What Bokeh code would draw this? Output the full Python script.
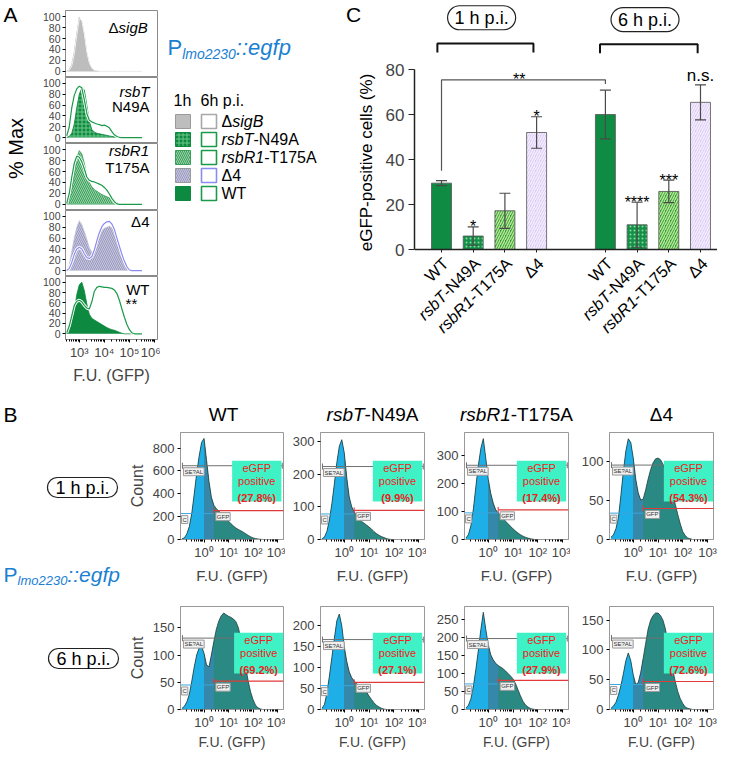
import math
from bokeh.plotting import figure
from bokeh.layouts import row, column
from bokeh.models import Range1d, FixedTicker, Label, Whisker, TeeHead, ColumnDataSource
from bokeh.core.properties import value
from bokeh.embed import file_html
from bokeh.resources import INLINE

FONT = "Liberation Sans"

# ======================= DATA =======================
# ---- Panel A: overlay histograms (x = log10 F.U., y = % of max) ----
a_log_fu = [2.5, 2.6, 2.7, 2.8, 2.9, 3.0, 3.1, 3.2, 3.3, 3.4, 3.5, 3.6, 3.7, 3.8, 3.9, 4.0,
            4.1, 4.2, 4.3, 4.4, 4.5, 4.6, 4.7, 4.8, 4.9, 5.0, 5.1, 5.2, 5.3, 5.4, 5.5]
a_sigB_1h = [0, 3, 12, 35, 68, 98, 90, 65, 33, 14, 5, 2, 0.5, 0, 0, 0,
             0, 0, 0, 0, 0, 0, 0, 0, 0, 0, 0, 0, 0, 0, 0]
a_sigB_6h = [0, 2, 10, 32, 66, 96, 93, 68, 35, 15, 6, 2, 1, 0, 0, 0,
             0, 0, 0, 0, 0, 0, 0, 0, 0, 0, 0, 0, 0, 0, 0]
a_rsbT_1h = [0.5, 2, 8, 25, 55, 80, 92, 88, 60, 30, 15, 10, 8, 7, 6, 5,
             4, 3, 2, 1.5, 1, 0.5, 0, 0, 0, 0, 0, 0, 0, 0, 0]
a_rsbT_6h = [3, 20, 55, 78, 90, 95, 92, 70, 45, 32, 29, 27, 25, 24, 22, 23,
             21, 18, 11, 5, 2, 0.5, 0, 0, 0, 0, 0, 0, 0, 0, 0]
a_rsbR1_1h = [1, 8, 28, 55, 85, 98, 92, 75, 53, 40, 32, 27, 24, 21, 18, 16,
              14, 12, 9, 6, 3, 1, 0, 0, 0, 0, 0, 0, 0, 0, 0]
a_rsbR1_6h = [2, 20, 50, 75, 88, 86, 78, 65, 50, 44, 42, 41, 39, 37, 35, 31,
              26, 19, 11, 5, 1, 0, 0, 0, 0, 0, 0, 0, 0, 0, 0]
a_d4_1h = [0, 10, 35, 60, 80, 92, 85, 72, 58, 42, 34, 38, 52, 65, 74, 78,
           80, 82, 79, 72, 60, 42, 25, 12, 4, 1, 0, 0, 0, 0, 0]
a_d4_6h = [0, 4, 15, 30, 40, 43, 40, 31, 24, 22, 26, 38, 55, 70, 81, 87,
           90, 91, 86, 76, 60, 45, 30, 17, 7, 1, 0, 0, 0, 0, 0]
a_wt_1h = [1, 8, 25, 45, 76, 95, 100, 84, 58, 38, 30, 27, 24, 21, 18, 15,
           12, 10, 8, 7, 5, 3, 1, 0, 0, 0, 0, 0, 0, 0, 0]
a_wt_6h = [2, 15, 35, 55, 63, 65, 62, 55, 50, 48, 62, 82, 90, 92, 91, 90,
           90, 89, 88, 85, 78, 65, 48, 32, 18, 8, 2, 0, 0, 0, 0]
a_strains = ["ΔsigB", "rsbT-N49A", "rsbR1-T175A", "Δ4", "WT"]
a_pct_ticks = [0, 20, 40, 60, 80, 100]
a_fu_ticks = [1e3, 1e4, 1e5, 1e6]
a_fu_tick_labels = ["10³", "10⁴", "10⁵", "10⁶"]

# ---- Panel C: eGFP-positive cells (%) ----
c_strains = ["WT", "rsbT-N49A", "rsbR1-T175A", "Δ4"]
c_val_1h = [29.5, 6.0, 17.2, 52.0]
c_err_1h = [1.1, 4.1, 7.8, 7.0]
c_val_6h = [60.0, 11.0, 25.8, 65.4]
c_err_6h = [10.8, 10.0, 5.0, 7.8]
c_sig_1h = ["", "*", "", "*"]
c_sig_6h = ["", "****", "***", "n.s."]
c_y_ticks = [0, 20, 40, 60, 80]
c_timepoints = ["1 h p.i.", "6 h p.i."]

# ---- Panel B: flow cytometry histograms (x = log10 F.U., y = count) ----
b_log_fu = [-0.9, -0.8, -0.7, -0.6, -0.5, -0.4, -0.3, -0.2, -0.1, 0.0, 0.1, 0.2,
            0.3, 0.4, 0.5, 0.6, 0.7, 0.8, 0.9, 1.0, 1.1, 1.2, 1.3, 1.4,
            1.5, 1.6, 1.7, 1.8, 1.9, 2.0, 2.1, 2.2, 2.3, 2.4, 2.5, 2.6]
b_wt_1h = [5, 15, 50, 115, 230, 400, 580, 730, 850, 885, 700, 510,
           370, 300, 270, 250, 228, 205, 182, 160, 138, 118, 100, 88,
           76, 64, 50, 36, 24, 14, 8, 4, 2, 0, 0, 0]
b_rsbT_1h = [2, 8, 25, 60, 110, 170, 235, 285, 305, 265, 190, 130,
             100, 85, 72, 62, 55, 50, 44, 38, 32, 24, 18, 13,
             9, 6, 3, 1, 0, 0, 0, 0, 0, 0, 0, 0]
b_rsbR1_1h = [5, 18, 50, 110, 190, 265, 325, 360, 290, 215, 165, 130,
              106, 95, 87, 76, 65, 56, 47, 38, 30, 23, 17, 12,
              8, 5, 3, 1, 0, 0, 0, 0, 0, 0, 0, 0]
b_d4_1h = [3, 6, 14, 28, 57, 88, 114, 130, 125, 105, 78, 60,
           51, 52, 64, 78, 90, 99, 104, 105, 103, 97, 89, 80,
           70, 58, 45, 32, 20, 10, 5, 2, 1, 0, 0, 0]
b_wt_6h = [2, 6, 14, 28, 52, 78, 100, 113, 116, 103, 82, 78,
           100, 125, 147, 162, 172, 177, 174, 171, 169, 166, 161, 150,
           130, 104, 78, 52, 32, 18, 8, 3, 1, 0, 0, 0]
b_rsbT_6h = [3, 12, 40, 80, 125, 170, 212, 228, 200, 150, 115, 90,
             76, 68, 62, 56, 52, 48, 42, 32, 24, 16, 10, 6,
             3, 1, 0, 0, 0, 0, 0, 0, 0, 0, 0, 0]
b_rsbR1_6h = [4, 12, 30, 65, 112, 165, 222, 270, 222, 180, 152, 138,
              128, 122, 118, 113, 107, 100, 93, 85, 72, 55, 38, 23,
              13, 7, 3, 1, 0, 0, 0, 0, 0, 0, 0, 0]
b_d4_6h = [2, 6, 12, 24, 40, 60, 82, 95, 82, 58, 42, 45,
           62, 86, 111, 135, 150, 158, 162, 162, 158, 150, 135, 112,
           90, 66, 46, 30, 18, 10, 4, 2, 1, 0, 0, 0]
b_strains = ["WT", "rsbT-N49A", "rsbR1-T175A", "Δ4"]
b_yticks_1h = [[0, 200, 400, 600, 800], [0, 100, 200, 300], [0, 100, 200, 300], [0, 50, 100]]
b_yticks_6h = [[0, 50, 100, 150], [0, 50, 100, 150, 200], [0, 50, 100, 150, 200, 250], [0, 50, 100, 150]]
b_gates_1h = [(646, 227, 253), (223, 78, 89), (265, 95, 106), (96, 34, 40)]   # (SE?AL, C, GFP) levels
b_gates_6h = [(131, 45, 52), (167, 57, 65), (197, 71, 81), (120, 42, 47)]
b_pct_1h = ["(27.8%)", "(9.9%)", "(17.4%)", "(54.3%)"]
b_pct_6h = ["(69.2%)", "(27.1%)", "(27.9%)", "(72.6%)"]
b_fu_ticks = [1, 10, 100, 1000]
b_fu_tick_labels = ["10⁰", "10¹", "10²", "10³"]

# ======================= STYLE HELPERS =======================
BLUE_T = "#1a80d2"
GREEN = "#0d8a3f"
SEG = {
    "ΔsigB": [("Δ", "normal"), ("sigB", "italic")],
    "rsbT-N49A": [("rsbT", "italic"), ("-N49A", "normal")],
    "rsbR1-T175A": [("rsbR1", "italic"), ("-T175A", "normal")],
    "Δ4": [("Δ4", "normal")],
    "WT": [("WT", "normal")],
}
CW = {' ': .278, '-': .333, '.': .278, ':': .278, '(': .333, ')': .333, '%': .889, 'A': .667,
      'B': .667, 'C': .722, 'F': .611, 'G': .778, 'N': .722, 'P': .667, 'R': .722, 'T': .611,
      'U': .722, 'W': .944, 'b': .556, 'e': .556, 'f': .278, 'g': .556, 'h': .556, 'i': .222,
      'l': .222, 'm': .833, 'o': .556, 'p': .556, 'r': .333, 's': .5, 't': .278, 'v': .5,
      'Δ': .668, '*': .389}


def tw(s, size):
    return sum(CW.get(ch, .556) for ch in s) * size


def rich(p, x, y, segs, size, color="black", align="left", baseline="middle"):
    items = []
    for s in segs:
        items.append((s[0], s[1], s[2] if len(s) > 2 else size, s[3] if len(s) > 3 else 0))
    total = sum(tw(t, sz) for t, st, sz, dy in items)
    off = {"left": 0.0, "center": -total / 2, "right": -total}[align]
    for t, st, sz, dy in items:
        p.text(x=[x], y=[y], text=[t], x_offset=off, y_offset=dy, text_font=value(FONT),
               text_font_size=f"{sz}px", text_font_style=st, text_color=color,
               text_align="left", text_baseline=baseline)
        off += tw(t, sz)


def canvas(w, h, px0, py0):
    p = figure(width=w, height=h, x_range=Range1d(px0, px0 + w),
               y_range=Range1d(-(py0 + h), -py0),
               output_backend="svg", toolbar_location=None, x_axis_location=None,
               y_axis_location=None, min_border=0)
    p.outline_line_color = None
    p.grid.visible = False
    return p


def pill(p, x, y, text, size, padx, pady, radius):
    p.add_layout(Label(x=x, y=y, text=text, text_align="center", text_baseline="middle",
                       text_font=FONT, text_font_size=f"{size}px", text_color="black",
                       background_fill_color="white", border_line_color="#222222",
                       border_line_width=1.2, border_radius=radius,
                       padding=dict(left=padx, right=padx, top=pady, bottom=pady)))


FILL_STYLES = [
    dict(fill_color="#bdbdbd"),
    dict(fill_color="#0e8a40", hatch_pattern="cross", hatch_color="#6cc688", hatch_scale=4, hatch_weight=1),
    dict(fill_color="#3c9e5c", hatch_pattern="left_diagonal_line", hatch_color="#9ad4aa", hatch_scale=4, hatch_weight=1),
    dict(fill_color="#c6c6dc", hatch_pattern="left_diagonal_line", hatch_color="#9a9ac0", hatch_scale=4, hatch_weight=1),
    dict(fill_color=GREEN),
]
OUT_COLORS = ["#f2f2f2", "#1a9a4a", "#1a9a4a", "#8c8cf0", "#1a9a4a"]

# ======================= PANEL A =======================
A_LMIN, A_LMAX = 2.45, 6.12
a_x = [10 ** v for v in a_log_fu]
a_1h = [a_sigB_1h, a_rsbT_1h, a_rsbR1_1h, a_d4_1h, a_wt_1h]
a_6h = [a_sigB_6h, a_rsbT_6h, a_rsbR1_6h, a_d4_6h, a_wt_6h]
a_labels = [
    [(5.73, 80, [("Δ", "normal"), ("sigB", "italic")])],
    [(5.8, 86, [("rsbT", "italic")]), (5.8, 57, [("N49A", "normal")])],
    [(5.78, 98, [("rsbR1", "italic")]), (5.8, 68, [("T175A", "normal")])],
    [(5.8, 90, [("Δ4", "normal")])],
    [(5.8, 86, [("WT", "normal")])],
]
a_heights = [77, 66, 67, 66, 110]
a_tops = [10, 0, 0, 0, 0]
a_bots = [0, 0, 0, 0, 43]

a_figs = []
for k in range(5):
    last = k == 4
    p = figure(width=125, height=a_heights[k], x_axis_type="log",
               x_range=Range1d(10 ** A_LMIN, 10 ** A_LMAX), y_range=Range1d(-11, 111),
               output_backend="svg", toolbar_location=None,
               x_axis_location="below" if last else None,
               min_border_left=30, min_border_right=3, min_border_top=a_tops[k], min_border_bottom=a_bots[k])
    p.grid.visible = False
    p.outline_line_color = "#8a8a8a"
    ya = p.yaxis[0]
    ya.ticker = FixedTicker(ticks=a_pct_ticks)
    ya.major_label_text_font = FONT
    ya.major_label_text_font_size = "10.5px"
    ya.major_tick_out = 3
    ya.major_tick_in = 0
    ya.minor_tick_line_color = None
    ya.major_label_standoff = 2
    ya.axis_line_color = "#8a8a8a"
    if last:
        xa = p.xaxis[0]
        xa.ticker = FixedTicker(ticks=a_fu_ticks, minor_ticks=[m * 10 ** d for d in range(2, 6) for m in range(2, 10)])
        xa.major_label_overrides = {t: l for t, l in zip(a_fu_ticks, a_fu_tick_labels)}
        xa.major_label_text_font = FONT
        xa.major_label_text_font_size = "13px"
        xa.major_tick_out = 3
        xa.major_tick_in = 0
        xa.minor_tick_out = 2
        xa.minor_tick_in = 0
        xa.major_label_standoff = 2
        xa.axis_label = "F.U. (GFP)"
        xa.axis_label_text_font = FONT
        xa.axis_label_text_font_size = "16px"
        xa.axis_label_text_font_style = "normal"
        xa.axis_label_standoff = 4
        xa.axis_line_color = "#8a8a8a"
    st = dict(FILL_STYLES[k])
    p.varea(x=a_x, y1=0, y2=a_1h[k], **st)
    p.line(a_x, a_1h[k], line_color=st["fill_color"] if k != 0 else "#a5a5a5", line_width=0.8)
    if k == 0:
        p.line(a_x, a_6h[k], line_color=OUT_COLORS[k], line_width=1)
    else:
        p.line(a_x, a_6h[k], line_color="white", line_width=3)
        p.line(a_x, a_6h[k], line_color=OUT_COLORS[k], line_width=1.2)
    for (lx, ly, segs) in a_labels[k]:
        rich(p, 10 ** lx, ly, segs, 15, align="right")
    if last:
        rich(p, 10 ** 5.08, 58, [("**", "normal")], 15, align="center")
    a_figs.append(p)

a_stack = column(*a_figs)

a_text = canvas(35, 386, 0, 0)
a_text.text(x=[3], y=[-14], text=["A"], text_font=value(FONT), text_font_size="21px",
            text_align="left", text_baseline="middle")
a_text.text(x=[15], y=[-148], text=["% Max"], angle=math.pi / 2, text_font=value(FONT),
            text_font_size="20px", text_align="center", text_baseline="middle")

# legend canvas (also hosts panel letter C and the C y-axis title)
lg = canvas(220, 386, 160, 0)
rich(lg, 167, -47, [("P", "normal", 22, 0), ("lmo2230", "italic", 14, 6), ("::egfp", "italic", 22, 0)],
     22, color=BLUE_T)
rich(lg, 173, -100, [("1h", "normal")], 16)
rich(lg, 200, -100, [("6h p.i.", "normal")], 16)
row_y = [121, 139, 157, 175, 193]
for k, name in enumerate(a_strains):
    st = dict(FILL_STYLES[k])
    lg.rect(x=[182.5], y=[-row_y[k]], width=15, height=14,
            line_color="#9a9a9a" if k in (0, 3) else st["fill_color"], line_width=1, **st)
    lg.rect(x=[208.5], y=[-row_y[k]], width=15, height=14, fill_color="white",
            line_color=OUT_COLORS[k] if k != 0 else "#a8a8a8", line_width=1.6)
    rich(lg, 221, -row_y[k], SEG[name], 16)
lg.text(x=[353], y=[-14], text=["C"], text_font=value(FONT), text_font_size="21px",
        text_align="center", text_baseline="middle")
lg.text(x=[366], y=[-162], text=["eGFP-positive cells (%)"], angle=math.pi / 2, text_font=value(FONT),
        text_font_size="17px", text_align="center", text_baseline="middle")

# ======================= PANEL C =======================
C_PX = 31.7                  # px per bar slot
C_PY = 2.25                  # px per percent
C_LB, C_BB = 34, 6           # figure borders
C_FW, C_FH = 337 - C_LB, 386 - C_BB
C_X0 = 0.148                 # left frame edge = y axis position
C_X1 = C_X0 + C_FW / C_PX
C_Y1 = 249 / C_PY
C_Y0 = C_Y1 - C_FH / C_PY
cp = figure(width=337, height=386, x_range=Range1d(C_X0, C_X1), y_range=Range1d(C_Y0, C_Y1),
            output_backend="svg", toolbar_location=None,
            min_border_left=C_LB, min_border_right=0, min_border_top=0, min_border_bottom=C_BB)
cp.grid.visible = False
cp.outline_line_color = None
slot = [0, 1, 2, 3]
x1h = [1 + s for s in slot]
x6h = [6.17 + s for s in slot]
C_STYLES = [
    dict(fill_color="#0f8b43"),
    dict(fill_color="#168f48", hatch_pattern="dot", hatch_color="#86dc9a", hatch_scale=4, hatch_weight=1),
    dict(fill_color="#2a9a45", hatch_pattern="right_diagonal_line", hatch_color="#b8e68c", hatch_scale=5, hatch_weight=1.5),
    dict(fill_color="#d9c8f6", hatch_pattern="right_diagonal_line", hatch_color="#f4eefd", hatch_scale=5, hatch_weight=1.5),
]
for i in slot:
    cp.vbar(x=[x1h[i], x6h[i]], top=[c_val_1h[i], c_val_6h[i]], bottom=0, width=0.63,
            line_color="#555555", line_width=0.8, **C_STYLES[i])
xs_all = x1h + x6h
vals_all = c_val_1h + c_val_6h
errs_all = c_err_1h + c_err_6h
wsrc = ColumnDataSource(dict(base=xs_all, upper=[v + e for v, e in zip(vals_all, errs_all)],
                             lower=[v - e for v, e in zip(vals_all, errs_all)]))
cp.add_layout(Whisker(source=wsrc, base="base", upper="upper", lower="lower", level="overlay",
                      line_color="#4a4a4a", line_width=1.2,
                      upper_head=TeeHead(size=11, line_color="#4a4a4a", line_width=1.2),
                      lower_head=TeeHead(size=11, line_color="#4a4a4a", line_width=1.2)))
sig_all = c_sig_1h + c_sig_6h
for xv, v, e, s in zip(xs_all, vals_all, errs_all, sig_all):
    if not s:
        continue
    if s == "n.s.":
        cp.text(x=[xv], y=[v + e], text=[s], y_offset=-9, text_font=value(FONT), text_font_size="17px",
                text_align="center", text_baseline="alphabetic")
    else:
        cp.text(x=[xv], y=[v + e], text=[s], y_offset=0, text_font=value(FONT), text_font_size="16px",
                text_align="center", text_baseline="alphabetic")
# comparison bracket
cp.multi_line(xs=[[x1h[0], x1h[0], x6h[0], x6h[0]]], ys=[[35, 75.4, 75.4, 73.6]],
              line_color="#555555", line_width=1.2)
cp.text(x=[3.45], y=[75.4], text=["**"], text_font=value(FONT), text_font_size="16px",
        text_align="center", text_baseline="alphabetic")
# time point brackets + pills
br = [(x1h[0] - 0.13, x1h[3] - 0.1, 91.6, 103.0), (x6h[0] - 0.17, x6h[3] - 0.09, 91.2, 102.2)]
for (l, r, yb, yp), tp in zip(br, c_timepoints):
    cp.multi_line(xs=[[l, l, r, r]], ys=[[yb - 4, yb, yb, yb - 4]], line_color="#111111", line_width=2)
    pill(cp, (l + r) / 2 - 0.12, yp, tp, 18, 7, 2, 13)
# axes
ya = cp.yaxis[0]
ya.ticker = FixedTicker(ticks=c_y_ticks)
ya.bounds = (0, 80)
ya.major_label_text_font = FONT
ya.major_label_text_font_size = "17px"
ya.major_tick_out = 6
ya.major_tick_in = 0
ya.minor_tick_line_color = None
ya.major_label_standoff = 4
ya.axis_line_width = 1.5
ya.axis_line_color = "#222222"
ya.major_tick_line_color = "#222222"
xa = cp.xaxis[0]
xa.fixed_location = 0
xa.ticker = FixedTicker(ticks=xs_all)
xa.major_label_text_font_size = "1px"
xa.major_label_text_color = None
xa.major_label_standoff = 0
xa.major_tick_out = 3
xa.major_tick_in = 0
xa.axis_line_width = 1.5
xa.axis_line_color = "#222222"
xa.major_tick_line_color = "#222222"
# rotated category labels with mixed italics
ang = math.pi / 4
LBL = 16.5
for xv, name in zip(xs_all, c_strains + c_strains):
    off = 0.0
    for t, stl in reversed(SEG[name]):
        cp.text(x=[xv], y=[0], text=[t], angle=ang, x_offset=4 - off * math.cos(ang),
                y_offset=11 + off * math.sin(ang), text_align="right", text_baseline="middle",
                text_font=value(FONT), text_font_size=f"{LBL}px", text_font_style=stl)
        off += tw(t, LBL)

top_row = row(column(a_text), a_stack, column(lg), column(cp))

# ======================= PANEL B =======================
B_LMIN, B_LMAX = -0.96, 3.24
b_x = [10 ** v for v in b_log_fu]
b_1h = [b_wt_1h, b_rsbT_1h, b_rsbR1_1h, b_d4_1h]
b_6h = [b_wt_6h, b_rsbT_6h, b_rsbR1_6h, b_d4_6h]
b_ymax_1h = [937, 327, 382, 138]
b_ymax_6h = [189, 246, 286, 173]
b_shift_1h = [False, False, False, True]
b_shift_6h = [True, False, False, True]
b_widths = [(160, 54, 2), (141, 35, 2), (144, 38, 2), (147, 39, 4)]
TEAL, SKY, MID, EDGE = "#2a8a83", "#1eaee8", "#3588aa", "#1d3f3c"
AQUA, RED = "#3ff2c6", "#ee2020"
idx_blue = [i for i, v in enumerate(b_log_fu) if v <= 1e-9]
idx_mid = [i for i, v in enumerate(b_log_fu) if -1e-9 <= v <= 0.4 + 1e-9]


def b_panel(col, rix, counts, ymax, yticks, gate, pct, shifted):
    width, lb, rb = b_widths[col]
    height, bb, std, fsz = (174, 67, 4, "15px") if rix == 0 else (146, 39, 1, "14px")
    p = figure(width=width, height=height, x_axis_type="log",
               x_range=Range1d(10 ** B_LMIN, 10 ** B_LMAX), y_range=Range1d(0, ymax),
               output_backend="svg", toolbar_location=None,
               min_border_left=lb, min_border_right=rb, min_border_top=0, min_border_bottom=bb)
    p.grid.visible = False
    p.outline_line_color = "#999999"
    p.varea(x=b_x, y1=0, y2=counts, fill_color=TEAL)
    p.varea(x=[b_x[i] for i in idx_blue], y1=0, y2=[counts[i] for i in idx_blue], fill_color=SKY)
    p.varea(x=[b_x[i] for i in idx_mid], y1=0, y2=[counts[i] for i in idx_mid], fill_color=MID)
    p.line(b_x, counts, line_color=EDGE, line_width=0.8)
    g_grey, g_blue, g_red = gate
    xl, xr = 10 ** (B_LMIN + 0.08), 10 ** (B_LMAX - 0.05)
    xg = 10 ** 0.4
    p.segment(x0=[xl], y0=[g_grey], x1=[xr], y1=[g_grey], line_color="#707070", line_width=1)
    p.scatter(x=[xl, xr], y=[g_grey, g_grey], marker="dash", size=6, angle=math.pi / 2, line_color="#707070")
    p.segment(x0=[10 ** B_LMIN], y0=[g_blue], x1=[xg], y1=[g_blue], line_color="#38a6de", line_width=1)
    p.segment(x0=[xg], y0=[g_red], x1=[10 ** B_LMAX], y1=[g_red], line_color="#e03a3a", line_width=1.2)
    p.scatter(x=[xg], y=[g_red], marker="dash", size=6, angle=math.pi / 2, line_color="#e03a3a")
    for (lx, ly, t, xo) in [(xl, g_grey, "SE?AL", 1), (10 ** B_LMIN, g_blue, "C", 1), (xg, g_red, "GFP", 2)]:
        p.add_layout(Label(x=lx, y=ly, text=t, x_offset=xo, y_offset=-2, text_align="left",
                           text_baseline="top", text_font=FONT, text_font_size="6px",
                           text_color="#333333", background_fill_color="#f0f0f0",
                           border_line_color="#9a9a9a", padding=1))
    fw = width - lb - rb
    rel = 79 if shifted else 77
    bx = 10 ** (B_LMIN + rel / fw * (B_LMAX - B_LMIN))
    by = 0.49 * ymax
    p.add_layout(Label(x=bx, y=by, y_offset=6, text="eGFP\npositive", text_align="center",
                       text_baseline="middle", text_font=FONT, text_font_size="11px", text_color=RED,
                       text_line_height=1.15, background_fill_color=AQUA,
                       padding=dict(left=6, right=6, top=1, bottom=14)))
    p.add_layout(Label(x=bx, y=by, y_offset=-11, text=pct, text_align="center", text_baseline="middle",
                       text_font=FONT, text_font_size="11px", text_font_style="bold", text_color=RED))
    ya = p.yaxis[0]
    ya.ticker = FixedTicker(ticks=yticks)
    ya.major_label_text_font = FONT
    ya.major_label_text_font_size = "13px"
    ya.major_tick_out = 3
    ya.major_tick_in = 0
    ya.minor_tick_line_color = None
    ya.major_label_standoff = 3
    ya.axis_line_color = "#999999"
    if col == 0:
        ya.axis_label = "Count"
        ya.axis_label_text_font = FONT
        ya.axis_label_text_font_size = "16px"
        ya.axis_label_text_font_style = "normal"
        ya.axis_label_standoff = 4
    xa = p.xaxis[0]
    xa.ticker = FixedTicker(ticks=b_fu_ticks,
                            minor_ticks=[m * 10 ** d for d in range(-1, 3) for m in range(2, 10)])
    xa.major_label_overrides = {t: l for t, l in zip(b_fu_ticks, b_fu_tick_labels)}
    xa.major_label_text_font = FONT
    xa.major_label_text_font_size = "13px"
    xa.major_tick_out = 3
    xa.major_tick_in = 0
    xa.minor_tick_out = 2
    xa.minor_tick_in = 0
    xa.major_label_standoff = 2
    xa.axis_line_color = "#999999"
    xa.axis_label = "F.U. (GFP)"
    xa.axis_label_text_font = FONT
    xa.axis_label_text_font_size = fsz
    xa.axis_label_text_font_style = "normal"
    xa.axis_label_standoff = std
    return p


row1 = [b_panel(c, 0, b_1h[c], b_ymax_1h[c], b_yticks_1h[c], b_gates_1h[c], b_pct_1h[c], b_shift_1h[c]) for c in range(4)]
row2 = [b_panel(c, 1, b_6h[c], b_ymax_6h[c], b_yticks_6h[c], b_gates_6h[c], b_pct_6h[c], b_shift_6h[c]) for c in range(4)]

titles = canvas(592, 46, 125, 386)
for cx, name in zip([223, 372, 516, 661], b_strains):
    rich(titles, cx, -414, SEG[name], 19, align="center")

b_left = canvas(125, 366, 0, 386)
b_left.text(x=[3], y=[-414], text=["B"], text_font=value(FONT), text_font_size="21px",
            text_align="left", text_baseline="middle")
pill(b_left, 82, -487, c_timepoints[0], 18, 8, 0, 11)
pill(b_left, 83, -658, c_timepoints[1], 18, 8, 0, 11)
rich(b_left, 3, -574, [("P", "normal", 21, 0), ("lmo2230", "italic", 13, 6), ("::egfp", "italic", 21, 0)],
     21, color=BLUE_T)

bottom = row(column(b_left), column(titles, row(*row1), row(*row2)))
root = column(top_row, bottom)

open("out.html", "w").write(file_html(root, INLINE))
